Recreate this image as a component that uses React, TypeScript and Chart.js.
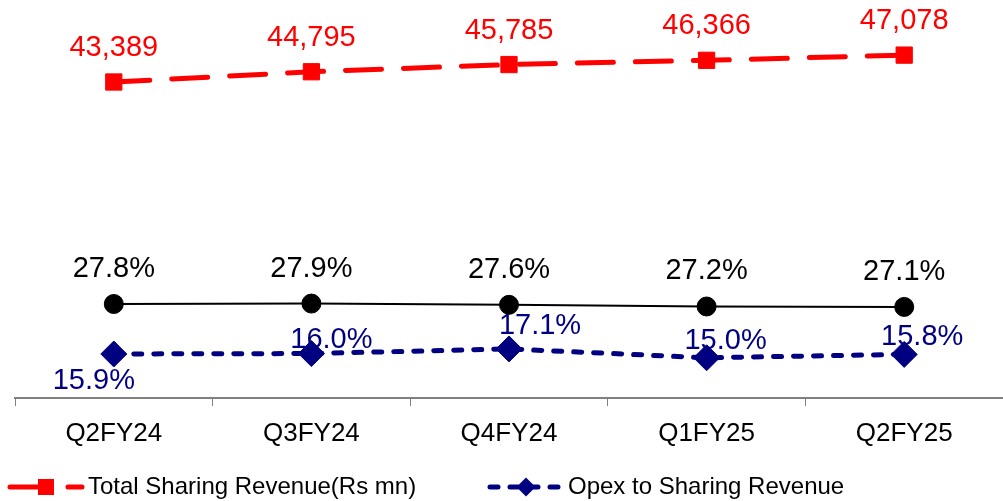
import React, { useEffect, useRef } from "react";
import { Chart, registerables } from "chart.js";

Chart.register(...registerables);

const categories = ["Q2FY24", "Q3FY24", "Q4FY24", "Q1FY25", "Q2FY25"];
const totalSharingRevenue = [43389, 44795, 45785, 46366, 47078];
const blackRatio = [27.8, 27.9, 27.6, 27.2, 27.1];
const opexToSharingRevenue = [15.9, 16.0, 17.1, 15.0, 15.8];

const FONT = "'Liberation Sans', Arial, Helvetica, sans-serif";
const RED = "#FF0000";
const NAVY = "#000080";
const BLACK = "#000000";

// label offsets (px) relative to each point
const revLabelOffsets = [[0, -34], [0, -34], [0, -34], [0, -34], [0, -34]];
const blackLabelOffsets = [[0, -35], [0, -35], [0, -35], [0, -35], [0, -35]];
const opexLabelOffsets = [[-20, 27], [20, -14], [31, -23], [19, -17], [18, -17]];

const fmtRev = (v: number) => v.toLocaleString("en-US");
const fmtPct = (v: number) => v.toFixed(1) + "%";

const labelPlugin = {
  id: "customLabels",
  afterDatasetsDraw(chart: any) {
    const ctx = chart.ctx;
    ctx.save();
    ctx.font = `29px ${FONT}`;
    ctx.textAlign = "center";
    ctx.textBaseline = "middle";
    chart.data.datasets.forEach((ds: any, i: number) => {
      const meta = chart.getDatasetMeta(i);
      const offs = ds._labelOffsets;
      const fmt = ds._fmt;
      ctx.fillStyle = ds._labelColor;
      meta.data.forEach((pt: any, j: number) => {
        const [dx, dy] = offs[j];
        ctx.fillText(fmt(ds.data[j]), pt.x + dx, pt.y + dy);
      });
    });
    ctx.restore();
  },
  afterDraw(chart: any) {
    const ctx = chart.ctx;
    const y = 487;
    const items = [
      { x: 10, ds: chart.data.datasets[0] },
      { x: 490, ds: chart.data.datasets[2] },
    ];
    items.forEach(({ x, ds }) => {
      ctx.save();
      ctx.strokeStyle = ds.borderColor;
      ctx.lineWidth = ds.borderWidth;
      ctx.lineCap = "round";
      ctx.setLineDash(ds.borderDash || []);
      ctx.beginPath();
      ctx.moveTo(x, y);
      ctx.lineTo(x + 72, y);
      ctx.stroke();
      ctx.setLineDash([]);
      const cx = x + 36;
      ctx.fillStyle = ds.pointBackgroundColor;
      if (ds.pointStyle === "rect") {
        const s = 8;
        ctx.fillRect(cx - s, y - s, 2 * s, 2 * s);
      } else if (ds.pointStyle === "rectRot") {
        const s = 9.5;
        ctx.beginPath();
        ctx.moveTo(cx - s, y);
        ctx.lineTo(cx, y + s);
        ctx.lineTo(cx + s, y);
        ctx.lineTo(cx, y - s);
        ctx.closePath();
        ctx.fill();
      }
      ctx.fillStyle = BLACK;
      ctx.font = `24px ${FONT}`;
      ctx.textAlign = "left";
      ctx.textBaseline = "middle";
      ctx.fillText(ds.label, x + 78, y);
      ctx.restore();
    });
  },
};

export default function App() {
  const ref = useRef<HTMLCanvasElement>(null);

  useEffect(() => {
    if (!ref.current) return;
    const chart = new Chart(ref.current, {
      type: "line",
      data: {
        labels: categories,
        datasets: [
          {
            label: "Total Sharing Revenue(Rs mn)",
            data: totalSharingRevenue,
            yAxisID: "yRev",
            borderColor: RED,
            backgroundColor: RED,
            borderWidth: 5,
            borderDash: [36, 22],
            borderCapStyle: "round",
            pointStyle: "rect",
            pointRadius: 11.5,
            pointBorderWidth: 1,
            pointBackgroundColor: RED,
            pointBorderColor: RED,
            tension: 0,
            clip: false,
            _labelOffsets: revLabelOffsets,
            _fmt: fmtRev,
            _labelColor: RED,
          } as any,
          {
            label: "Ratio",
            data: blackRatio,
            yAxisID: "yPct",
            borderColor: BLACK,
            backgroundColor: BLACK,
            borderWidth: 2,
            pointStyle: "circle",
            pointRadius: 9.5,
            pointBorderWidth: 1,
            pointBackgroundColor: BLACK,
            pointBorderColor: BLACK,
            tension: 0,
            clip: false,
            _labelOffsets: blackLabelOffsets,
            _fmt: fmtPct,
            _labelColor: BLACK,
          } as any,
          {
            label: "Opex to Sharing Revenue",
            data: opexToSharingRevenue,
            yAxisID: "yPct",
            borderColor: NAVY,
            backgroundColor: NAVY,
            borderWidth: 5,
            borderDash: [8, 12],
            borderCapStyle: "round",
            pointStyle: "rectRot",
            pointRadius: 13,
            pointBorderWidth: 1,
            pointBackgroundColor: NAVY,
            pointBorderColor: NAVY,
            tension: 0,
            clip: false,
            _labelOffsets: opexLabelOffsets,
            _fmt: fmtPct,
            _labelColor: NAVY,
          } as any,
        ],
      },
      options: {
        responsive: false,
        animation: false,
        layout: { autoPadding: false, padding: { left: 15, right: 0, top: 12, bottom: 0 } },
        plugins: {
          legend: { display: false },
          tooltip: { enabled: false },
        },
        scales: {
          x: {
            type: "category",
            offset: true,
            grid: {
              offset: true,
              drawOnChartArea: false,
              drawTicks: true,
              tickLength: 8,
              color: "#808080",
              lineWidth: 1,
            },
            border: { color: "#808080", width: 2 },
            ticks: {
              color: BLACK,
              font: { size: 26, family: FONT },
              padding: 12,
              maxRotation: 0,
              autoSkip: false,
            },
            afterFit: (s: any) => {
              s.height = 103;
            },
          },
          yRev: {
            type: "linear",
            display: false,
            min: 0,
            max: 53000,
          },
          yPct: {
            type: "linear",
            display: false,
            min: 5.42,
            max: 97.3,
          },
        },
      } as any,
      plugins: [labelPlugin],
    });
    return () => chart.destroy();
  }, []);

  return (
    <div style={{ position: "absolute", left: 0, top: 0, width: 1003, height: 501, background: "#fff" }}>
      <canvas ref={ref} width={1003} height={501} style={{ display: "block" }} />
    </div>
  );
}
